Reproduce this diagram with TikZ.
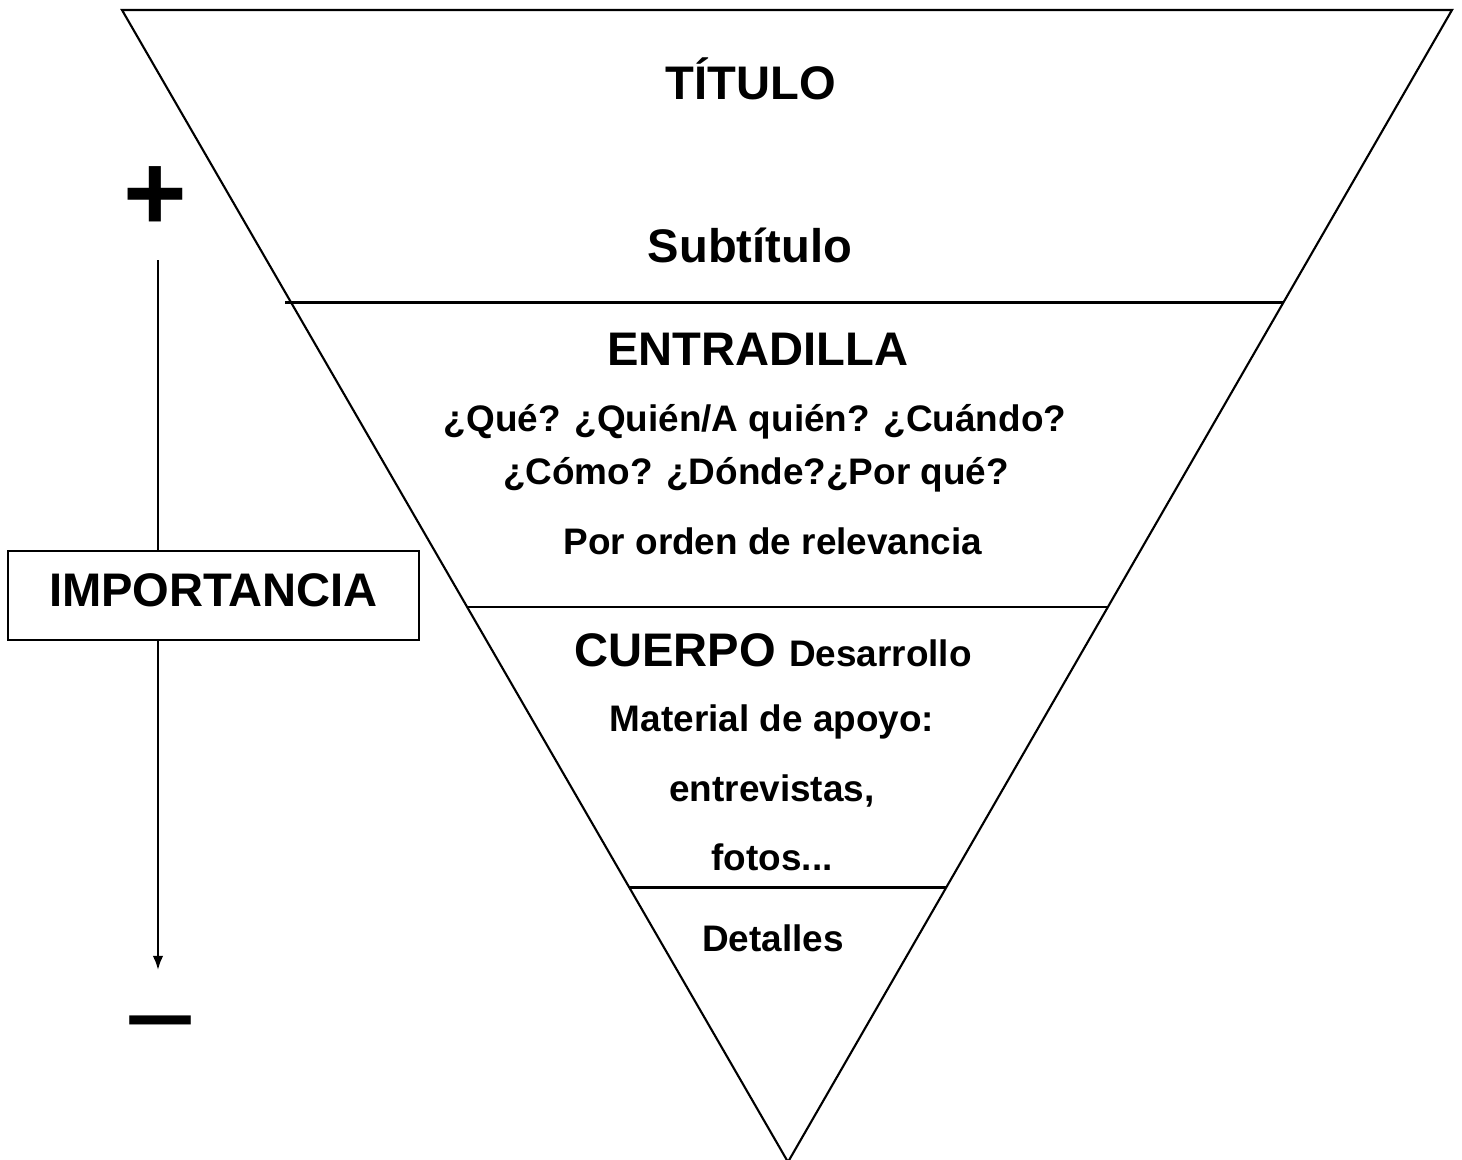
\documentclass[tikz,border=0pt]{standalone}
\usepackage{fontspec}
\setmainfont{Liberation Sans}
\usetikzlibrary{arrows.meta, positioning, calc}

\tikzset{
  big/.style={font=\fontsize{13.4pt}{16pt}\bfseries\selectfont},
  small/.style={font=\fontsize{10.5pt}{12.6pt}\bfseries\selectfont},
  level/.style={line width=0.6pt}
}

\begin{document}
\begin{tikzpicture}[x=0.01cm, y=-0.01cm, line width=0.6pt]
        \useasboundingbox (0,0) rectangle (1462,1160);

        % Draw the inverted triangle
        \coordinate (tl) at (122,10);
        \coordinate (tr) at (1452,10);
        \coordinate (apex) at (788,1162);
        \draw[black] (tl) -- (tr) -- (apex) -- cycle;

        % Draw the lines between the parts
        \draw[level] ($(tl)!0.2539!(apex)$) ++(-6,0) coordinate (l1) -- ($(tr)!0.2539!(apex)$) coordinate (r1);
        \draw[level] ($(tl)!0.5183!(apex)$) coordinate (l2) -- ($(tr)!0.5183!(apex)$) coordinate (r2);
        \draw[level] ($(tl)!0.7617!(apex)$) coordinate (l3) -- ($(tr)!0.7617!(apex)$) coordinate (r3);

        % Title part
        \node[big] (titulo) at (751,79) {TÍTULO};
        \node[big] (subtitulo) at (750,245) {Subtítulo};

        % Entradilla part
        \node[big] (entradilla) at (758,349) {ENTRADILLA};
        \node[small] (preguntas) at (755,422) {¿Qué? ¿Quién/A quién? ¿Cuándo?};
        \node[small] (preguntasb) at (756,475) {¿Cómo? ¿Dónde?¿Por qué?};
        \node[small] (orden) at (773,541) {Por orden de relevancia};

        % Cuerpo part
        \node (cuerpo) at (773,650) {\fontsize{13.4pt}{16pt}\bfseries\selectfont CUERPO \fontsize{10.5pt}{12.6pt}\selectfont Desarrollo};
        \node[small] (material) at (772,722) {Material de apoyo:};
        \node[small] (entrevistas) at (772,791) {entrevistas,};
        \node[small] (fotos) at (772,857) {fotos...};

        % Detalles part
        \node[small] (detalles) at (773,938) {Detalles};

        % Draw the importance scale
        \node[big, draw, minimum width=4.11cm, minimum height=0.89cm, inner sep=0pt, text depth=0.1cm] (importancia) at (213.5,595.5) {IMPORTANCIA};
        \node[font=\fontsize{31pt}{31pt}\bfseries\selectfont] (mas) at (155,199) {+};
        \node[font=\fontsize{36pt}{36pt}\selectfont] (menos) at (160,1039) {−};
        \coordinate (arriba) at (158,260);
        \coordinate (abajo) at (158,970);
        \draw[black] (arriba) -- (importancia.north -| arriba);
        \draw[-{Latex[length=4pt, width=3pt]}, black] (importancia.south -| arriba) -- (abajo);
    \end{tikzpicture}
\end{document}
